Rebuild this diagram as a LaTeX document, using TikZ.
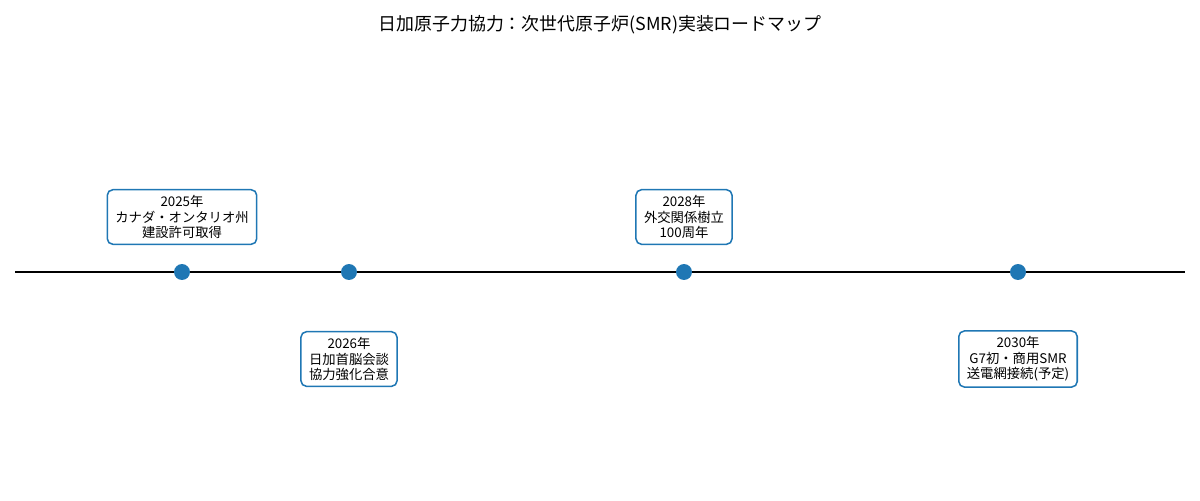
\documentclass[tikz,border=0pt]{standalone}
\usepackage{fontspec}
\setmainfont{Noto Sans CJK JP}
\definecolor{mplblue}{HTML}{1F77B4}
\begin{document}
\begin{tikzpicture}[x=0.72pt,y=-0.72pt,
  evbox/.style={draw=mplblue,line width=1.1pt,fill=white,rounded corners=4pt,
    align=center,font=\fontsize{9.6}{11.2}\selectfont,inner xsep=5.8pt,inner ysep=4pt},
  dot/.style={circle,fill=mplblue,draw=none,minimum size=11.5pt,inner sep=0pt},
  axisline/.style={line width=2pt,black}]
\useasboundingbox (0,0) rectangle (1200,500);
\node[font=\fontsize{12.9}{15}\selectfont] (title) at (600,25) {日加原子力協力：次世代原子炉(SMR)実装ロードマップ};
\coordinate (L) at (15,272);
\coordinate (R) at (1185,272);
\draw[axisline] (L) -- (R);
\node[dot] (d1) at (182,272) {};
\node[dot] (d2) at (349,272) {};
\node[dot] (d3) at (684,272) {};
\node[dot] (d4) at (1018,272) {};
\node[evbox] (b1) at (182,217) {2025年\\カナダ・オンタリオ州\\建設許可取得};
\node[evbox] (b2) at (349,359) {2026年\\日加首脳会談\\協力強化合意};
\node[evbox] (b3) at (684,217) {2028年\\外交関係樹立\\100周年};
\node[evbox] (b4) at (1018,359) {2030年\\G7初・商用SMR\\送電網接続(予定)};
\end{tikzpicture}
\end{document}
